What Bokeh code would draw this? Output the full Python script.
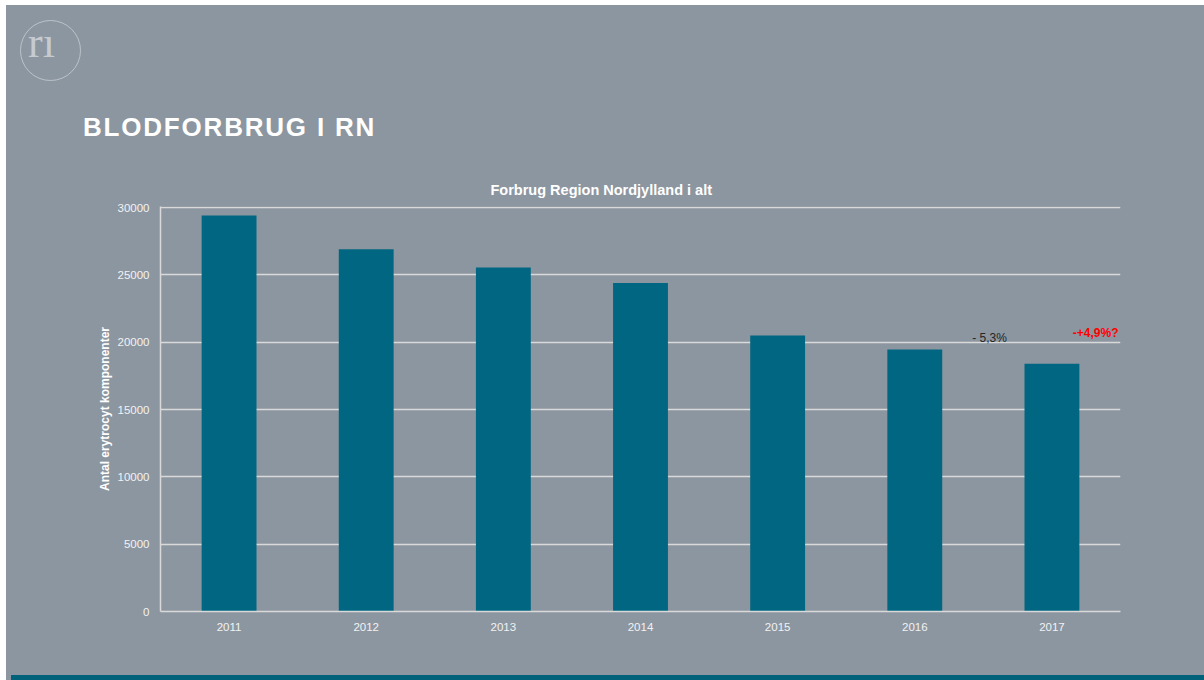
from bokeh.plotting import figure
from bokeh.models import Label, FixedTicker, FactorRange, Range1d, Div
from bokeh.layouts import column
from bokeh.embed import file_html
from bokeh.resources import INLINE

years = ["2011", "2012", "2013", "2014", "2015", "2016", "2017"]
values = [29400, 26900, 25550, 24400, 20500, 19450, 18400]
y_ticks = [0, 5000, 10000, 15000, 20000, 25000, 30000]
header_title = "BLODFORBRUG I RN"
logo_text = "rı"
chart_title = "Forbrug Region Nordjylland i alt"
y_label = "Antal erytrocyt komponenter"
note_2016 = "- 5,3%"
note_2017 = "-+4,9%?"

BG = "#8C96A0"
BAR = "#006681"
GRID = "#D9D9D9"
FONT = "Liberation Sans"
W = 1198

header_html = f"""
<div style="position:relative;width:{W}px;height:155px;">
  <div style="position:absolute;left:14px;top:15px;width:61px;height:61px;box-sizing:border-box;
              border:1.5px solid #BCC3CA;border-radius:50%;"></div>
  <div style="position:absolute;left:22px;top:16px;font-family:'Liberation Serif';font-size:44px;
              line-height:44px;color:#C5CBD1;">{logo_text}</div>
  <div style="position:absolute;left:77px;top:109px;font-family:'Liberation Sans';font-weight:bold;
              font-size:26px;line-height:26px;letter-spacing:1.8px;color:#FFFFFF;white-space:nowrap;">{header_title}</div>
</div>
"""
header = Div(text=header_html, width=W, height=155,
             styles={"background-color": BG, "margin": "0", "padding": "0"})

p = figure(width=W, height=510, x_range=FactorRange(*years, range_padding=0),
           y_range=Range1d(0, 30075), output_backend="svg", toolbar_location=None,
           min_border_left=154, min_border_right=84, min_border_top=46, min_border_bottom=59,
           title=chart_title)
p.background_fill_color = None
p.border_fill_color = BG
p.outline_line_color = None

p.title.text_font = FONT
p.title.text_font_size = "14.5px"
p.title.text_font_style = "bold"
p.title.text_color = "#FFFFFF"
p.title.align = "left"
p.title.offset = 330
p.title.standoff = 17

p.vbar(x=years, top=values, width=0.4, fill_color=BAR, line_color=None)

p.xgrid.grid_line_color = None
p.ygrid.grid_line_color = GRID
p.ygrid.grid_line_width = 1.5
p.yaxis.ticker = FixedTicker(ticks=y_ticks)

for ax in (p.xaxis[0], p.yaxis[0]):
    ax.axis_line_color = GRID
    ax.axis_line_width = 1.5
    ax.major_tick_line_color = None
    ax.minor_tick_line_color = None
    ax.major_tick_out = 0
    ax.major_tick_in = 0
    ax.major_label_text_color = "#F2F2F2"
    ax.major_label_text_font = FONT
    ax.major_label_text_font_size = "11.5px"
p.yaxis.major_label_standoff = 11
p.xaxis.major_label_standoff = 11

p.yaxis.axis_label = y_label
p.yaxis.axis_label_text_font = FONT
p.yaxis.axis_label_text_font_size = "12px"
p.yaxis.axis_label_text_font_style = "bold"
p.yaxis.axis_label_text_color = "#FFFFFF"
p.yaxis.axis_label_standoff = 3

p.add_layout(Label(x=829, y=274, x_units="screen", y_units="screen", text=note_2016,
                   text_font=FONT, text_font_size="12px", text_color="#262626",
                   text_align="center", text_baseline="alphabetic"))
p.add_layout(Label(x=958, y=279, x_units="screen", y_units="screen", text=note_2017,
                   text_font=FONT, text_font_size="12px", text_font_style="bold",
                   text_color="#FF0000", text_align="right", text_baseline="alphabetic"))

footer = Div(text="", width=W, height=6, styles={"background-color": "#00627A"})

layout = column(header, p, footer, spacing=0,
                styles={"background-color": BG, "margin-left": "6px", "margin-top": "5px"})
open("out.html", "w").write(file_html(layout, INLINE))
